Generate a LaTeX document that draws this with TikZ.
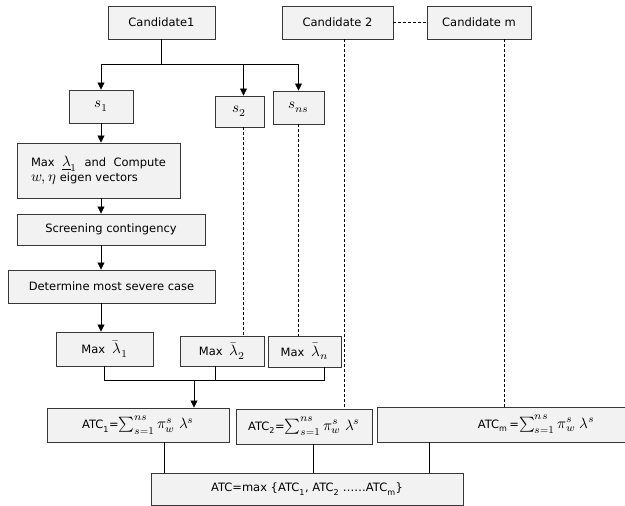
\documentclass[tikz,border=0pt]{standalone}
\usepackage{fontspec}
\usepackage{unicode-math}
\setmainfont{DejaVu Sans}
\setmathfont{Latin Modern Math}[Scale=1.3]
\usepackage{tikz}
\usetikzlibrary{arrows.meta,positioning,calc}
\definecolor{boxgray}{RGB}{242,242,242}
\definecolor{edgegray}{RGB}{55,55,55}
\tikzset{
  procbox/.style={draw=edgegray, line width=0.9pt, fill=boxgray,
    align=center, inner sep=0pt, font=\fontsize{11.5}{15}\selectfont},
  flow/.style={-{Triangle[length=7pt,width=7pt]}, line width=0.8pt},
  link/.style={line width=0.8pt},
  dashedlink/.style={line width=0.7pt, dash pattern=on 3pt off 2pt}
}

\begin{document}
\begin{tikzpicture}[x=1pt, y=-1pt]
\clip (0,0) rectangle (625,506);
% candidates
\node[procbox, minimum width=107pt, minimum height=33pt] (cand1) at (161.5,22.5) {Candidate1};
\node[procbox, minimum width=111pt, minimum height=33pt] (cand2) at (337.5,22.5) {Candidate 2};
\node[procbox, minimum width=104pt, minimum height=33pt] (candm) at (479,22.5) {Candidate m};
% scenarios
\node[procbox, minimum width=64pt, minimum height=33pt] (s1) at (101,106.5) {$s_1$};
\node[procbox, minimum width=49pt, minimum height=31pt] (s2) at (239.5,111.5) {$s_2$};
\node[procbox, minimum width=51pt, minimum height=33pt] (sns) at (298.5,107.5) {$s_{ns}$};
% steps for s1
\node[procbox, align=left, minimum width=163pt, minimum height=55pt] (maxcomp) at (98.5,170.5)
{Max \ $\underline{\lambda}_1$ \ and \ Compute\\$w,\eta$ eigen vectors};
\node[procbox, minimum width=188pt, minimum height=31pt] (screen) at (111,229.5) {Screening contingency};
\node[procbox, minimum width=207pt, minimum height=33pt] (severe) at (111.5,286.5) {Determine most severe case};
% maxima
\node[procbox, minimum width=97pt, minimum height=34pt] (max1) at (104.5,349) {Max\ \ $\bar{\lambda}_1$};
\node[procbox, minimum width=84pt, minimum height=30pt] (max2) at (222,351) {Max\ \ $\bar{\lambda}_2$};
\node[procbox, minimum width=73pt, minimum height=31pt] (maxn) at (304.5,351.5) {Max\ \ $\bar{\lambda}_n$};
% ATC
\node[procbox, minimum width=182pt, minimum height=34pt] (atc1) at (138,425)
{ATC\textsubscript{1}=$\sum_{s=1}^{ns}\pi_w^s\;\lambda^s$};
\node[procbox, minimum width=136pt, minimum height=35pt] (atc2) at (304,426.5)
{ATC\textsubscript{2}=$\sum_{s=1}^{ns}\pi_w^s\;\lambda^s$};
\node[procbox, minimum width=318pt, minimum height=35pt] (atcm) at (536,424.5)
{ATC\textsubscript{m}\,=$\sum_{s=1}^{ns}\pi_w^s\;\lambda^s$};
\node[procbox, minimum width=312pt, minimum height=32pt] (atc) at (307,489)
{ATC=max \{ATC\textsubscript{1}, ATC\textsubscript{2} \dots\dots ATC\textsubscript{m}\}};

\coordinate (join) at (194,380);

\draw[flow] (cand1.south) -- ++(0,25) -| (s1.north);
\draw[flow] (cand1.south) -- ++(0,25) -| ([xshift=4pt]s2.north);
\draw[flow] (cand1.south) -- ++(0,25) -| (sns.north);
\draw[flow] (s1.south) -- (s1.south |- maxcomp.north);
\draw[flow] (s1.south |- maxcomp.south) -- (s1.south |- screen.north);
\draw[flow] (s1.south |- screen.south) -- (s1.south |- severe.north);
\draw[flow] (s1.south |- severe.south) -- (s1.south |- max1.north);
\draw[dashedlink] (cand2.east) -- (candm.west);
\draw[dashedlink] ([xshift=4pt]s2.south) -- ([xshift=4pt]s2.south |- max2.north);
\draw[dashedlink] (sns.south) -- (sns.south |- maxn.north);
\draw[dashedlink] ([xshift=7pt]cand2.south) -- ([xshift=7pt]cand2.south |- atc2.north);
\draw[dashedlink] ([xshift=25pt]candm.south) -- ([xshift=25pt]candm.south |- atcm.north);
\draw[link] (max1.south) |- (join);
\draw[link] ([xshift=-7pt]max2.south) |- (join);
\draw[link] ([xshift=19.5pt]maxn.south) |- (join);
\draw[flow] (join) -- (join |- atc1.north);
\draw[link] ([xshift=26pt]atc1.south) -- ([xshift=26pt]atc1.south |- atc.north);
\draw[link] ([xshift=9pt]atc2.south) -- ([xshift=9pt]atc2.south |- atc.north);
\draw[link] ([xshift=-107pt]atcm.south) -- ([xshift=-107pt]atcm.south |- atc.north);
\end{tikzpicture}
\end{document}
